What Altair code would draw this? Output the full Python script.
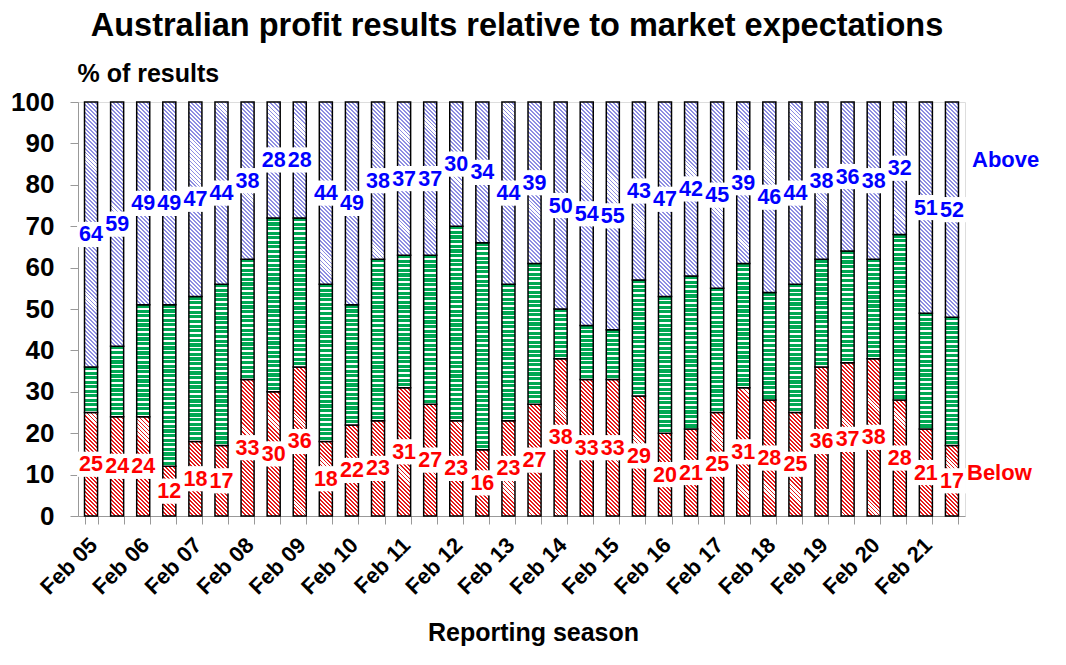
import altair as alt

seasons = ["Feb 05", "Aug 05", "Feb 06", "Aug 06", "Feb 07", "Aug 07", "Feb 08", "Aug 08",
           "Feb 09", "Aug 09", "Feb 10", "Aug 10", "Feb 11", "Aug 11", "Feb 12", "Aug 12",
           "Feb 13", "Aug 13", "Feb 14", "Aug 14", "Feb 15", "Aug 15", "Feb 16", "Aug 16",
           "Feb 17", "Aug 17", "Feb 18", "Aug 18", "Feb 19", "Aug 19", "Feb 20", "Aug 20",
           "Feb 21", "Aug 21"]
below = [25, 24, 24, 12, 18, 17, 33, 30, 36, 18, 22, 23, 31, 27, 23, 16, 23, 27, 38, 33,
         33, 29, 20, 21, 25, 31, 28, 25, 36, 37, 38, 28, 21, 17]
inline = [11, 17, 27, 39, 35, 39, 29, 42, 36, 38, 29, 39, 32, 36, 47, 50, 33, 34, 12, 13,
          12, 28, 33, 37, 30, 30, 26, 31, 26, 27, 24, 40, 28, 31]
above = [64, 59, 49, 49, 47, 44, 38, 28, 28, 44, 49, 38, 37, 37, 30, 34, 44, 39, 50, 54,
         55, 43, 47, 42, 45, 39, 46, 44, 38, 36, 38, 32, 51, 52]

groups = ["Below", "In line", "Above"]
label_colors = ["#FF0000", "#0000FF"]

# ---- styling helpers (hatch / stripe fills as SVG gradients) ----
PLOT_W, PLOT_H = 887, 414
PX_PER_UNIT = PLOT_H / 100.0
BAR_W = PLOT_W / len(seasons) * 0.5


def _stops(c1, c2, frac, n):
    n = max(1, int(round(n)))
    out = []
    for j in range(n):
        a = round(j / n, 5)
        m = round((j + frac) / n, 5)
        b = round((j + 1) / n, 5)
        out += [{"offset": a, "color": c1}, {"offset": m, "color": c1},
                {"offset": m, "color": c2}, {"offset": b, "color": c2}]
    return out


def hstripes(value, c1, c2, frac, period):
    h = value * PX_PER_UNIT
    return {"gradient": "linear", "x1": 0, "y1": 0, "x2": 0, "y2": 1,
            "stops": _stops(c1, c2, frac, h / period)}


def diag(value, c1, c2, frac, period):
    h = max(value * PX_PER_UNIT, 1.0)
    w = BAR_W
    c = h * (w + h) / (h * h + w * w)
    return {"gradient": "linear", "x1": 0, "y1": 1, "x2": c * w / h, "y2": 1 - c,
            "stops": _stops(c1, c2, frac, (w + h) / period)}


def fill_for(group, value):
    if group == "Below":
        return diag(value, "#E61A1A", "#FFFFFF", 0.48, 4.0)
    if group == "In line":
        return hstripes(value, "#00A853", "#FFFFFF", 0.68, 4.6)
    return diag(value, "#8E8EE2", "#FFFFFF", 0.48, 4.0)


rows = []
for i, s in enumerate(seasons):
    for k, (g, vals) in enumerate(zip(groups, [below, inline, above])):
        rows.append({"season": s, "group": g, "order": k, "value": vals[i],
                     "pat": fill_for(g, vals[i])})

FONT = "Liberation Sans"

x_enc = alt.X(
    "season:N", sort=seasons,
    scale=alt.Scale(paddingInner=0.5, paddingOuter=0.25),
    axis=alt.Axis(
        title="Reporting season", titleFont=FONT, titleFontSize=25, titleFontWeight="bold",
        titleColor="black", titleX=455, titleY=124, titleBaseline="alphabetic",
        titleAlign="center", titleAnchor="start",
        labelExpr="indexof(datum.label, 'Feb') == 0 ? datum.label : ''",
        labelAngle=-45, labelAlign="right", labelBaseline="top", labelPadding=10,
        labelOffset=-5,
        labelFont=FONT, labelFontSize=22, labelFontWeight="bold", labelColor="black",
        labelOverlap=False, labelFlush=False,
        tickBand="extent", tickSize=8, tickColor="#999999", domainColor="#999999",
        grid=False,
    ),
)

y_axis = alt.Axis(
    values=list(range(0, 101, 10)), grid=False,
    labelFont=FONT, labelFontSize=26, labelFontWeight="bold", labelColor="black",
    labelPadding=16, tickSize=8, tickColor="#999999", domainColor="#999999",
    title="% of results", titleAngle=0, titleAlign="left", titleBaseline="alphabetic",
    titleX=-1, titleY=-21, titleFont=FONT, titleFontSize=25, titleFontWeight="bold",
    titleColor="black",
)

base = alt.Chart(alt.Data(values=rows)).transform_stack(
    stack="value", groupby=["season"], as_=["y0", "y1"],
    sort=[alt.SortField("order", order="ascending")],
).transform_calculate(mid="(datum.y0 + datum.y1) / 2")

bars = base.mark_bar(stroke="black", strokeWidth=1.5).encode(
    x=x_enc,
    y=alt.Y("y0:Q", scale=alt.Scale(domain=[0, 100], nice=False), axis=y_axis),
    y2="y1:Q",
    fill=alt.Fill("pat:N", scale=None, legend=None),
)

lab = base.transform_filter("datum.group != 'In line'")

boxes = lab.mark_point(
    shape="M-1,-0.9L1,-0.9L1,0.9L-1,0.9Z", filled=True, fill="white", opacity=1,
    strokeWidth=0, size=784,
).encode(x=x_enc, y=alt.Y("mid:Q"))

texts = lab.mark_text(
    font=FONT, fontSize=21.5, fontWeight="bold", align="center", baseline="middle", dy=1,
).encode(
    x=x_enc, y=alt.Y("mid:Q"), text=alt.Text("value:Q"),
    color=alt.Color("group:N", scale=alt.Scale(domain=["Below", "Above"], range=label_colors),
                    legend=None),
)


def note(txt, color, size, xv, yv, align="left"):
    return alt.Chart(alt.Data(values=[{"t": txt}])).mark_text(
        font=FONT, fontSize=size, fontWeight="bold", align=align, baseline="alphabetic",
        color=color,
    ).encode(x=alt.value(xv), y=alt.value(yv), text="t:N")


title = note("Australian profit results relative to market expectations", "black", 32.5,
             439, -66, align="center")
ann_above = note("Above", "#0000FF", 22, 894, 64.5)
ann_below = note("Below", "#FF0000", 22, 889, 377.5)

chart = alt.layer(bars, boxes, texts, title, ann_above, ann_below).properties(
    width=PLOT_W, height=PLOT_H,
    autosize=alt.AutoSizeParams(type="none"),
    padding={"left": 70, "top": 94, "right": 93, "bottom": 141},
).configure_view(stroke=None).configure(background="white")

chart.save("out.html", embed_options={"renderer": "svg", "actions": False})
